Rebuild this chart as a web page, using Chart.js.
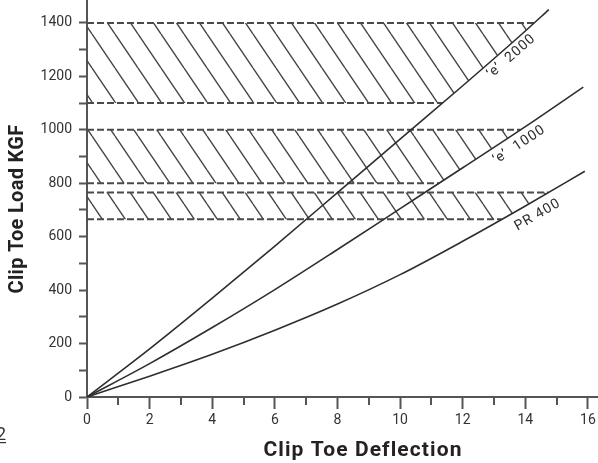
<!DOCTYPE html>
<html>
<head>
<meta charset="utf-8">
<script src="https://cdn.jsdelivr.net/npm/chart.js@4.4.0/dist/chart.umd.min.js"></script>
<style>
  html, body { margin: 0; padding: 0; background: #fff; }
  canvas { display: block; }
</style>
</head>
<body>
<canvas id="chart" width="598" height="463"></canvas>
<script>
// clip toe deflection (x) vs load in kgf (y)
const e2000Defl = [0, 2, 4, 6, 8, 10, 12, 14, 14.75];
const e2000Load = [0, 180, 370, 565, 765, 965, 1165, 1370, 1450];
const e1000Defl = [0, 2, 4, 6, 8, 10, 12, 14, 15.85];
const e1000Load = [0, 125, 260, 402, 552, 705, 858, 1012, 1160];
const pr400Defl = [0, 2, 4, 6, 8, 10, 12, 14, 15.9];
const pr400Load = [0, 78, 160, 250, 348, 458, 583, 715, 845];

// hatched load bands, each one closed on the right by a clip curve
const bandTop = [1400, 1000, 765];
const bandBottom = [1100, 800, 665];
const bandCurve = [0, 1, 2];

const xMax = 16.32;
const yMax = 1486;

const curves = [
  { name: '‘e’  2000', x: e2000Defl, y: e2000Load },
  { name: '‘e’  1000', x: e1000Defl, y: e1000Load },
  { name: 'PR 400', x: pr400Defl, y: pr400Load },
];

// where the curve names sit (deflection on the curve, px below it)
const notes = [
  { series: 0, at: 13.35, offset: 10 },
  { series: 1, at: 13.6, offset: 12 },
  { series: 2, at: 14.17, offset: 14 },
];

function loadAt(c, x) {
  for (let i = 0; i < c.x.length - 1; i++) {
    if (x >= c.x[i] && x <= c.x[i + 1]) {
      const t = (x - c.x[i]) / (c.x[i + 1] - c.x[i]);
      return c.y[i] + t * (c.y[i + 1] - c.y[i]);
    }
  }
  return c.y[c.y.length - 1];
}

function deflAt(c, y) {
  for (let i = 0; i < c.y.length - 1; i++) {
    if (y >= c.y[i] && y <= c.y[i + 1]) {
      const t = (y - c.y[i]) / (c.y[i + 1] - c.y[i]);
      return c.x[i] + t * (c.x[i + 1] - c.x[i]);
    }
  }
  return c.x[c.x.length - 1];
}

function hatchPattern() {
  const w = 23, h = 34;
  const c = document.createElement('canvas');
  c.width = w; c.height = h;
  const g = c.getContext('2d');
  g.strokeStyle = '#474747';
  g.lineWidth = 1.4;
  g.beginPath();
  for (const dx of [-w, 0, w]) {
    g.moveTo(dx, 0);
    g.lineTo(dx + w, h);
  }
  g.stroke();
  return g.createPattern(c, 'repeat');
}

const ctx = document.getElementById('chart').getContext('2d');
const hatch = hatchPattern();

const datasets = [];

bandTop.forEach((top, i) => {
  const c = curves[bandCurve[i]];
  const bottom = bandBottom[i];
  const xTop = deflAt(c, top);
  const xBot = deflAt(c, bottom);
  datasets.push({
    data: [{ x: 0, y: bottom }, { x: 0, y: top }, { x: xTop, y: top }, { x: xBot, y: bottom }],
    showLine: true, fill: 'shape', backgroundColor: hatch,
    borderWidth: 0, pointRadius: 0, tension: 0, order: 5
  });
  [[top, xTop], [bottom, xBot]].forEach(([y, xe]) => {
    datasets.push({
      data: [{ x: 0, y: y }, { x: xe, y: y }],
      showLine: true, fill: false, borderColor: '#4a4a4a', borderWidth: 2,
      borderDash: [7, 3], pointRadius: 0, order: 3
    });
  });
});

curves.forEach(c => {
  datasets.push({
    label: c.name,
    data: c.x.map((x, i) => ({ x: x, y: c.y[i] })),
    showLine: true, fill: false, borderColor: '#2e2e2e', borderWidth: 1.6,
    pointRadius: 0, cubicInterpolationMode: 'monotone', order: 1
  });
});

const extras = {
  id: 'extras',
  afterDatasetsDraw(chart) {
    const g = chart.ctx;
    const sx = chart.scales.x, sy = chart.scales.y;
    g.save();
    // minor ticks on the deflection axis
    g.strokeStyle = '#555';
    g.lineWidth = 2;
    for (let v = 1; v < 16; v += 2) {
      const px = Math.round(sx.getPixelForValue(v));
      g.beginPath();
      g.moveTo(px, sy.bottom);
      g.lineTo(px, sy.bottom + 8);
      g.stroke();
    }
    // curve names
    g.fillStyle = '#2e2e2e';
    g.font = '14px Roboto';
    g.letterSpacing = '1px';
    g.textAlign = 'center';
    g.textBaseline = 'middle';
    notes.forEach(n => {
      const c = curves[n.series];
      const x0 = n.at - 0.3, x1 = n.at + 0.3;
      const ang = Math.atan2(
        sy.getPixelForValue(loadAt(c, x1)) - sy.getPixelForValue(loadAt(c, x0)),
        sx.getPixelForValue(x1) - sx.getPixelForValue(x0));
      g.save();
      g.translate(sx.getPixelForValue(n.at), sy.getPixelForValue(loadAt(c, n.at)));
      g.rotate(ang);
      g.fillText(c.name, 0, n.offset);
      g.restore();
    });
    g.restore();
  },
  afterDraw(chart) {
    const g = chart.ctx;
    g.save();
    g.fillStyle = '#222';
    g.textAlign = 'center';
    g.textBaseline = 'middle';
    g.font = 'bold 21px Roboto';
    g.letterSpacing = '1.1px';
    g.fillText('Clip Toe Deflection', 363, 451);
    g.save();
    g.translate(18, 209);
    g.rotate(-Math.PI / 2);
    g.font = 'bold 20px Roboto';
    g.letterSpacing = '0.3px';
    g.fillText('Clip Toe Load KGF', 0, 0);
    g.restore();
    // page mark cut at the left edge
    g.letterSpacing = '0px';
    g.font = '18px Roboto';
    g.textAlign = 'right';
    g.textBaseline = 'alphabetic';
    g.fillStyle = '#333';
    g.fillText('2', 6, 440);
    g.fillRect(0, 442, 6, 1.2);
    g.restore();
  }
};

new Chart(ctx, {
  type: 'scatter',
  data: { datasets: datasets },
  options: {
    responsive: false,
    animation: false,
    devicePixelRatio: 1,
    layout: { padding: 0 },
    plugins: { legend: { display: false }, tooltip: { enabled: false } },
    scales: {
      x: {
        type: 'linear', min: 0, max: xMax, position: 'bottom',
        afterFit: s => { s.height = 66; s.paddingLeft = 0; s.paddingRight = 0; },
        border: { display: true, color: '#555', width: 2 },
        grid: {
          drawOnChartArea: false, drawTicks: true, tickLength: 12, tickWidth: 2,
          tickColor: c => (c.tick && c.tick.value % 2 === 0) ? '#555' : 'rgba(0,0,0,0)'
        },
        ticks: {
          stepSize: 1, autoSkip: false, maxRotation: 0, includeBounds: false, padding: 3,
          color: '#333', font: { family: 'Roboto', size: 14 },
          callback: v => v % 2 === 0 ? v : ''
        }
      },
      y: {
        type: 'linear', min: 0, max: yMax,
        afterFit: s => { s.width = 87; s.paddingTop = 0; s.paddingBottom = 0; },
        border: { display: true, color: '#555', width: 2 },
        grid: { drawOnChartArea: false, drawTicks: true, tickLength: 8, tickWidth: 2, tickColor: '#555' },
        ticks: {
          stepSize: 100, autoSkip: false, includeBounds: false, padding: 7,
          color: '#333', font: { family: 'Roboto', size: 14 },
          callback: v => v % 200 === 0 ? v : ''
        }
      }
    }
  },
  plugins: [extras]
});
</script>
</body>
</html>
